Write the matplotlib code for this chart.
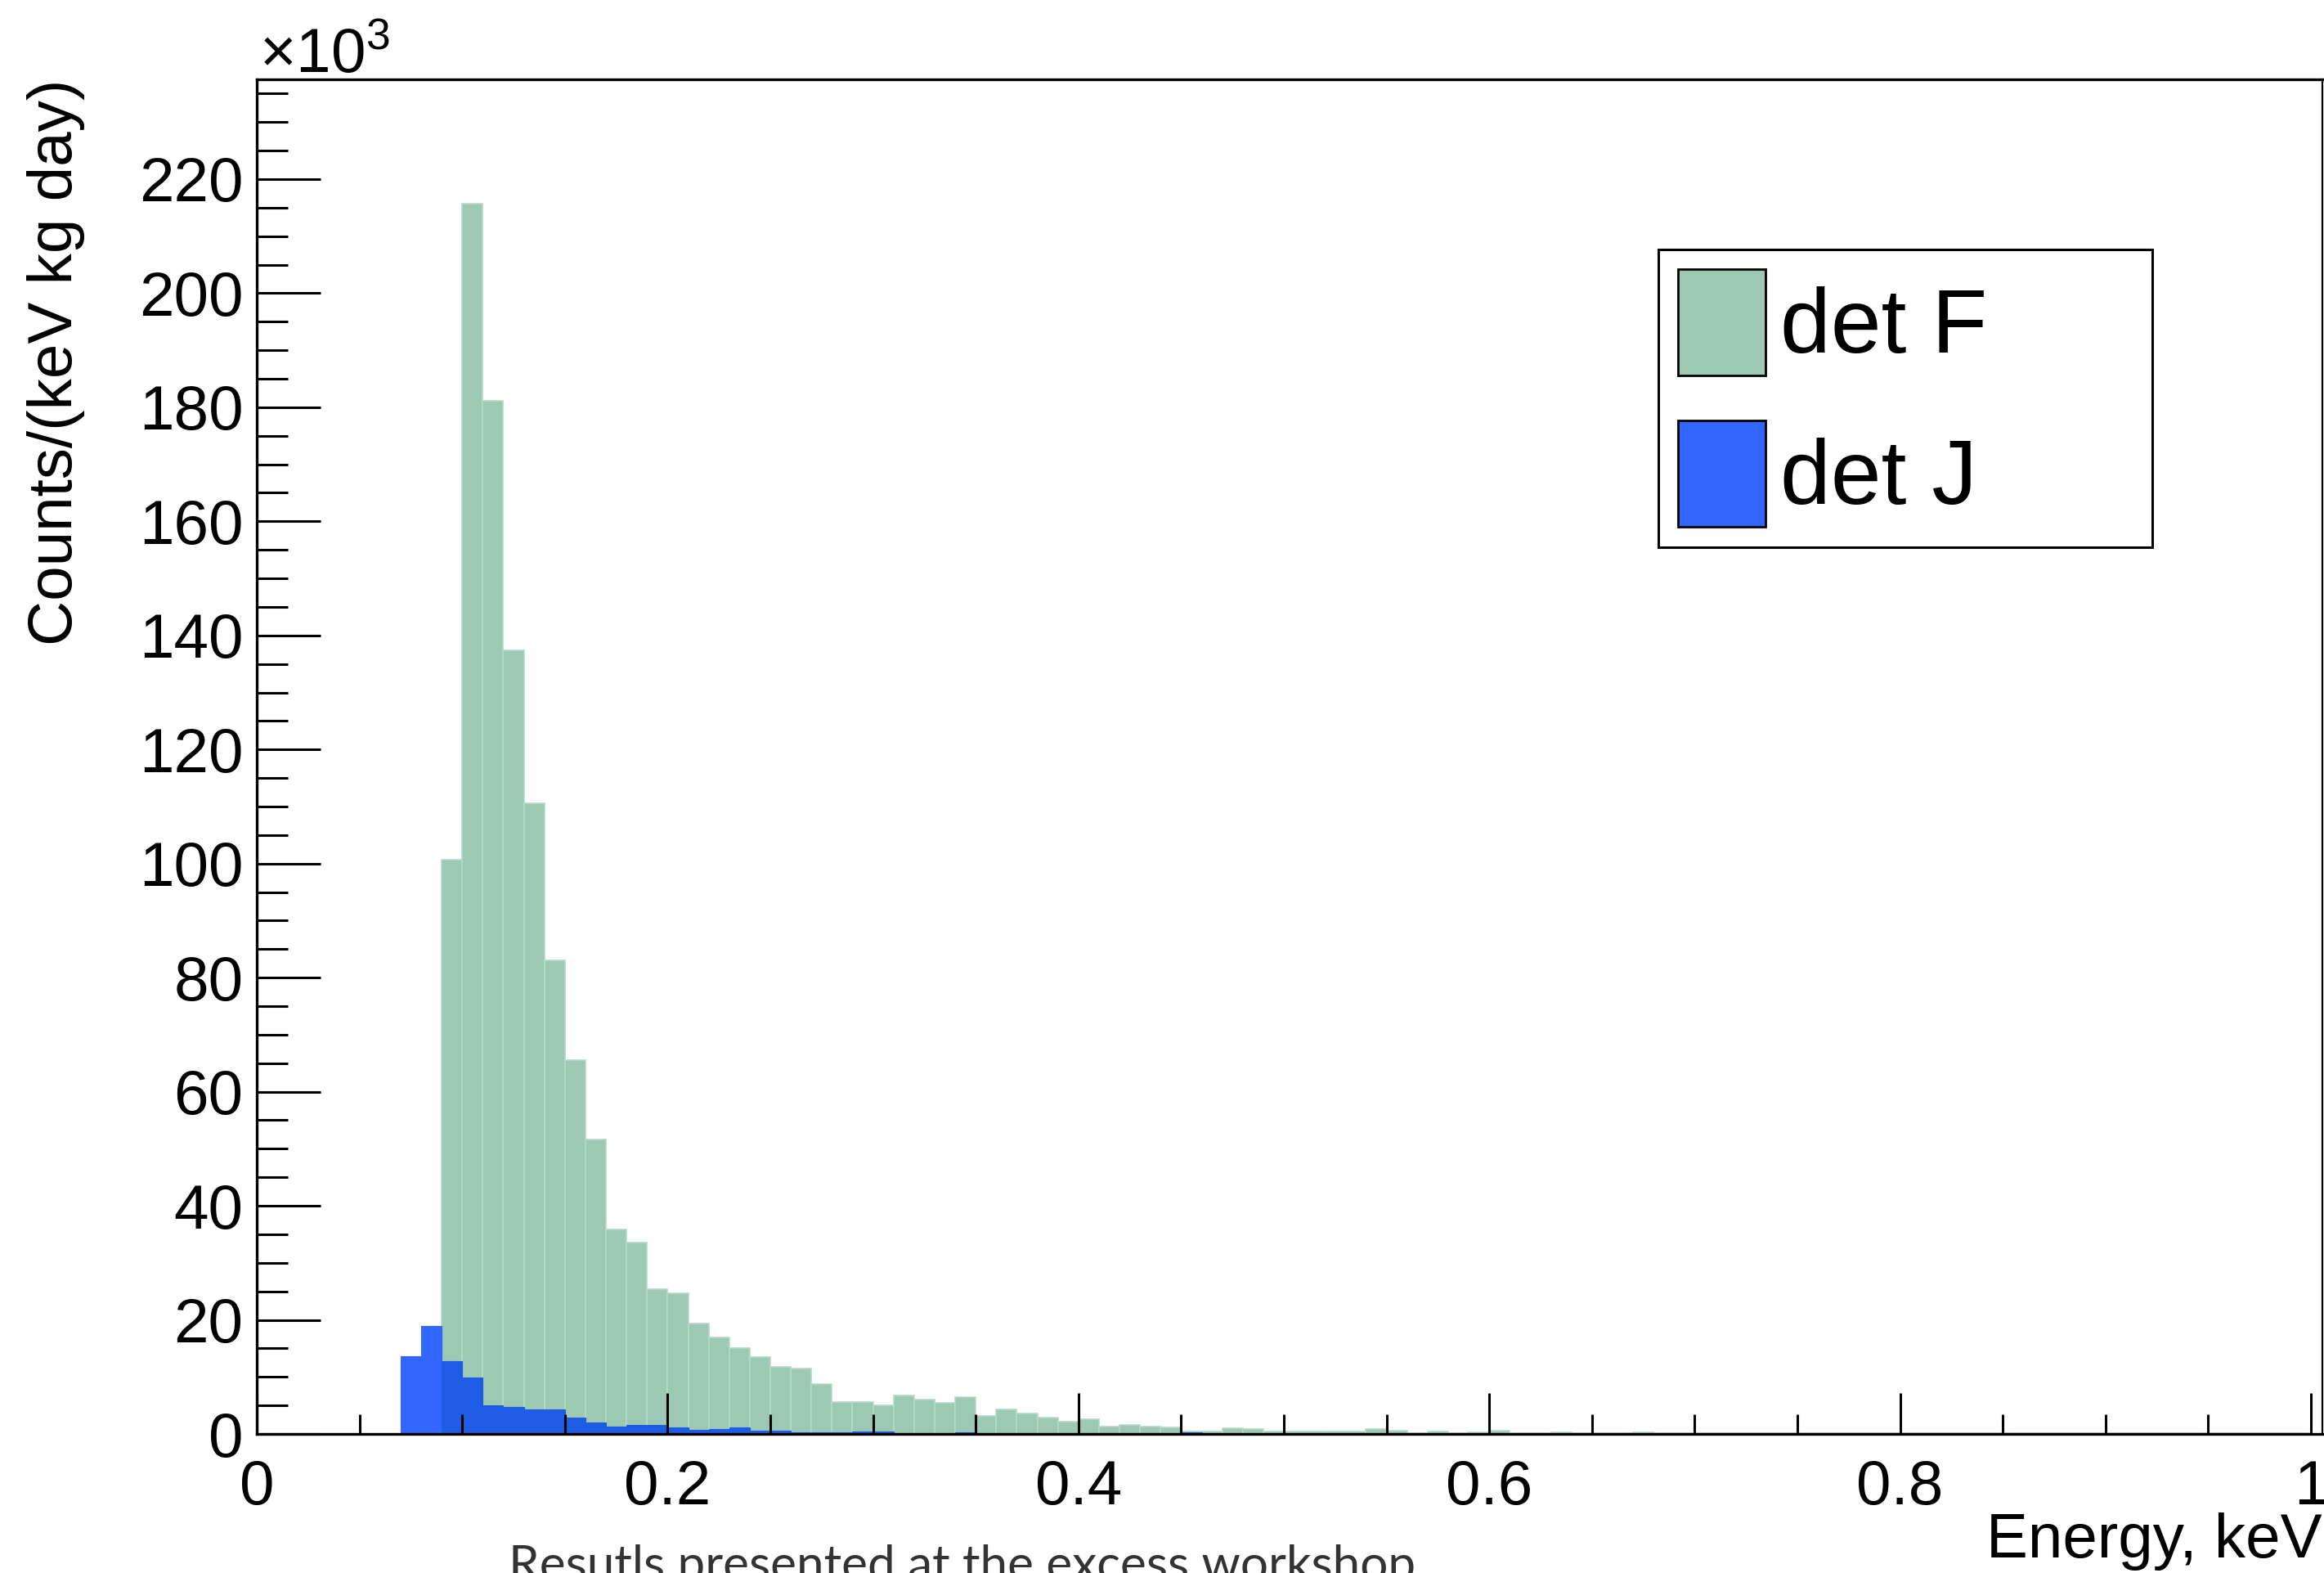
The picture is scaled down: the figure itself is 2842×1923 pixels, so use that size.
import numpy as np
import matplotlib
matplotlib.use("Agg")
import matplotlib.pyplot as plt
from matplotlib.patches import Patch
from matplotlib.ticker import MultipleLocator, FuncFormatter

plt.rcParams["font.family"] = ["Liberation Sans", "DejaVu Sans"]
plt.rcParams["mathtext.fontset"] = "custom"
plt.rcParams["mathtext.rm"] = "Liberation Sans"

# 100 bins of 0.01 keV from 0 to 1 keV, counts in units of 10^3
bin_width = 0.01
bin_edges = np.round(np.arange(0, 100) * bin_width, 2)

det_f = [
    0, 0, 0, 0, 0, 0, 0, 0, 0, 100.7,
    215.7, 181.1, 137.4, 110.6, 83.0, 65.5, 51.6, 35.9, 33.6, 25.4,
    24.6, 19.3, 16.9, 15.0, 13.5, 11.8, 11.5, 8.7, 5.6, 5.6,
    5.0, 6.8, 6.0, 5.4, 6.4, 3.2, 4.3, 3.6, 2.9, 2.2,
    2.6, 1.3, 1.6, 1.3, 1.1, 0.5, 0.5, 1.0, 0.8, 0.5,
    0.5, 0.4, 0.5, 0.4, 0.9, 0.6, 0.2, 0.4, 0.2, 0.3,
    0.6, 0.2, 0.1, 0.3, 0.2, 0.1, 0.1, 0.3, 0.1, 0.2,
    0.1, 0.1, 0.1, 0.2, 0.1, 0.1, 0.1, 0.1, 0.1, 0.1,
    0.1, 0.1, 0.1, 0.1, 0.1, 0.1, 0.1, 0.1, 0.1, 0.1,
    0.1, 0.1, 0.1, 0.1, 0.1, 0.1, 0.1, 0.1, 0.1, 0.1,
]

det_j = [
    0, 0, 0, 0, 0, 0, 0, 13.6, 18.9, 12.8,
    9.9, 5.0, 4.7, 4.3, 4.3, 2.9, 2.0, 1.3, 1.6, 1.6,
    1.1, 0.7, 0.9, 1.1, 0.6, 0.6, 0.3, 0.3, 0.3, 0.5,
    0.5, 0.2, 0.2, 0.2, 0.3, 0.2, 0.2, 0.2, 0.2, 0.2,
    0.2, 0.2, 0.2, 0.2, 0.2, 0.3, 0.2, 0.1, 0.1, 0.2,
    0.2, 0.1, 0.1, 0.2, 0.2, 0.1, 0.2, 0.1, 0.1, 0.2,
    0.1, 0.1, 0.2, 0.1, 0.1, 0.2, 0.2, 0.1, 0.1, 0.1,
    0.2, 0.1, 0.1, 0.1, 0.1, 0.1, 0.1, 0.1, 0.2, 0.1,
    0.1, 0.1, 0.1, 0.1, 0.1, 0.1, 0.1, 0.1, 0.1, 0.2,
    0.1, 0.1, 0.1, 0.1, 0.1, 0.1, 0.2, 0.2, 0.1, 0.1,
]

labels = ["det F", "det J"]
x_ticks = [0, 0.2, 0.4, 0.6, 0.8, 1.0]

green = "#9cc8b4"
green_edge = "#b4dac8"
blue = "#3366ff"
blue_dark = "#1e5ce6"

fig = plt.figure(figsize=(28.42, 19.23), dpi=100)
ax = fig.add_axes([0.1105, 0.0884, 0.8888, 0.8612])

ax.bar(bin_edges, det_f, width=bin_width, align="edge",
       color=green, edgecolor=green_edge, linewidth=1.2)
j_colors = [blue if f == 0 else blue_dark for f in det_f]
ax.bar(bin_edges, det_j, width=bin_width, align="edge",
       color=j_colors, edgecolor=j_colors, linewidth=0.8)

ax.set_xlim(0, 1.0056)
ax.set_ylim(0, 237.5)

ax.set_xticks(x_ticks)
ax.xaxis.set_minor_locator(MultipleLocator(0.05))
ax.yaxis.set_major_locator(MultipleLocator(20))
ax.yaxis.set_minor_locator(MultipleLocator(5))
ax.xaxis.set_major_formatter(FuncFormatter(lambda v, p: f"{v:g}"))
ax.yaxis.set_major_formatter(FuncFormatter(lambda v, p: f"{v:g}"))

ax.tick_params(axis="both", which="both", direction="in", width=2.2,
               top=False, right=False, labelsize=55)
ax.tick_params(axis="y", which="major", length=56, pad=12)
ax.tick_params(axis="y", which="minor", length=27)
ax.tick_params(axis="x", which="major", length=36, pad=22)
ax.tick_params(axis="x", which="minor", length=17)

for s in ax.spines.values():
    s.set_linewidth(2.4)
ax.spines["right"].set_linewidth(1.6)

ax.set_ylabel("Counts/(keV kg day)", fontsize=55, loc="top")
ax.yaxis.set_label_coords(-0.083, 1.0)
ax.set_xlabel("Energy, keV", fontsize=55, loc="right")
ax.xaxis.set_label_coords(1.0, -0.058)
ax.xaxis.label.set_verticalalignment("top")

ax.text(0.001, 1.005, r"$\mathregular{\times10^{3}}$", transform=ax.transAxes,
        fontsize=55, va="baseline", ha="left")

handles = [Patch(facecolor=green, edgecolor="black", linewidth=2),
           Patch(facecolor=blue, edgecolor="black", linewidth=2)]
leg = ax.legend(handles, labels, loc="upper left",
                bbox_to_anchor=(2028 / 2842, 1 - 304.5 / 1923, 604 / 2842, 0),
                bbox_transform=fig.transFigure, mode="expand",
                fontsize=80, handlelength=0.96, handleheight=1.42,
                handletextpad=0.16, labelspacing=0.5, borderpad=0.22,
                borderaxespad=0, fancybox=False, framealpha=1)
leg.get_frame().set_edgecolor("black")
leg.get_frame().set_linewidth(2.2)

fig.text(622 / 2842, 1 - 1888 / 1923, "Resutls presented at the excess workshop",
         fontsize=43.4, family=["Lato", "DejaVu Sans"], fontweight="normal",
         color="#333333", ha="left", va="top")

fig.savefig("out.png", dpi=100)
